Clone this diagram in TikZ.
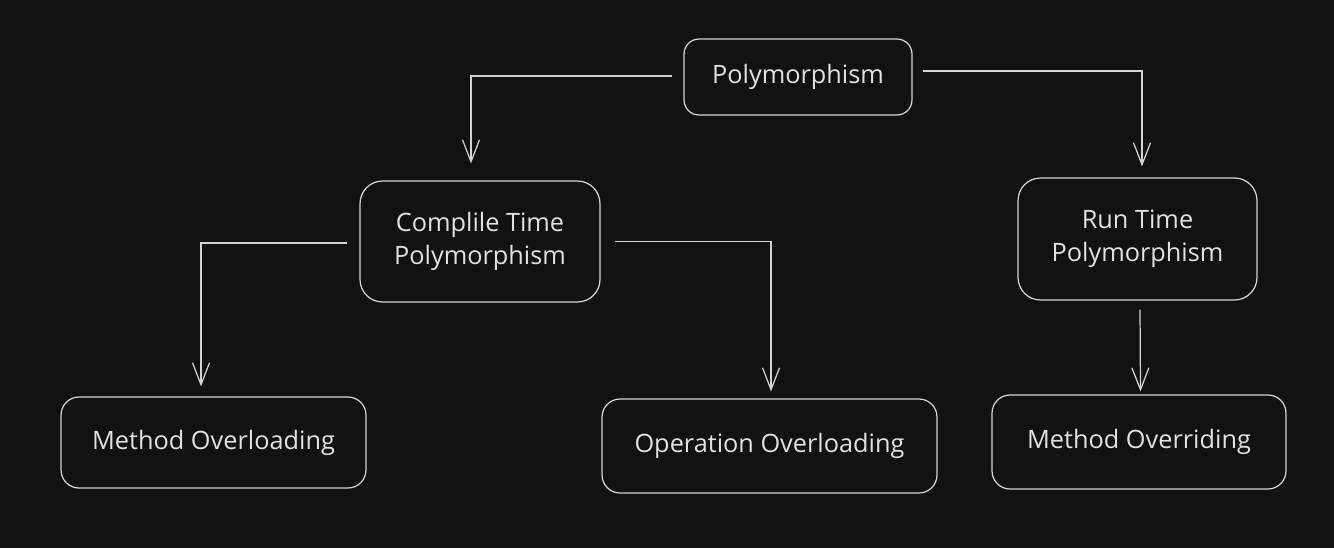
\documentclass[tikz,border=0pt]{standalone}
\usepackage{fontspec}
\setmainfont{Open Sans}
\usepackage{tikz}
\usetikzlibrary{arrows.meta, calc}
\definecolor{bgdark}{HTML}{121212}
\definecolor{inkline}{HTML}{D4D4D4}
\definecolor{inktext}{HTML}{E2E2E2}
\begin{document}
\begin{tikzpicture}[x=0.02cm, y=-0.02cm,
  box/.style={draw=inkline, line width=0.7pt, rounded corners=0.36cm, inner sep=0pt, align=center, text=inktext, font=\fontsize{14.4}{18.5}\selectfont},
  link/.style={draw=inkline, line width=0.7pt, -{Straight Barb[length=12.5pt, width=9.7pt, line width=0.7pt]}}]
\fill[bgdark] (0,0) rectangle (1334,548);
\useasboundingbox (0,0) rectangle (1334,548);
\node[box, minimum width=4.56cm, minimum height=1.52cm, rounded corners=0.3cm] (poly) at (798,77) {Polymorphism};
\node[box, minimum width=4.8cm, minimum height=2.42cm, rounded corners=0.45cm] (ctp) at (480,241.5) {Complile Time\\Polymorphism};
\node[box, minimum width=4.78cm, minimum height=2.44cm, rounded corners=0.45cm] (rtp) at (1137.5,239) {Run Time\\Polymorphism};
\node[box, minimum width=6.1cm, minimum height=1.82cm] (mol) at (213.5,442.5) {Method Overloading};
\node[box, minimum width=6.7cm, minimum height=1.88cm] (ool) at (769.5,446) {Operation Overloading};
\node[box, minimum width=5.88cm, minimum height=1.88cm] (mor) at (1139,442) {Method Overriding};
\draw[link] ($(poly.west)+(-11,-1)$) -| ($(ctp.north)+(-9,-17)$);
\draw[link] ($(poly.east)+(10,-6)$) -| ($(rtp.north)+(4.5,-11)$);
\draw[link] ($(ctp.west)+(-12,1.5)$) -| ($(mol.north)+(-12.5,-10)$);
\draw[link] ($(ctp.east)+(14,0)$) -| ($(ool.north)+(1.5,-7)$);
\draw[link] ($(rtp.south)+(2.5,9)$) -- ($(mor.north)+(1.5,-3)$);
\end{tikzpicture}
\end{document}
